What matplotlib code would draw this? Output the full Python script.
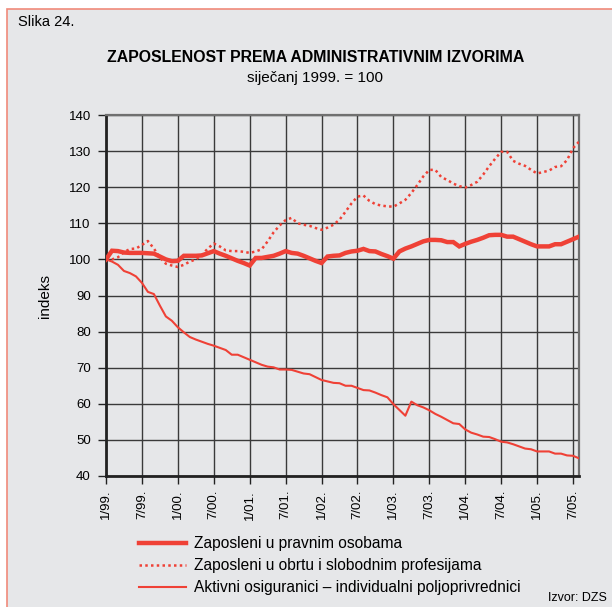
import matplotlib
matplotlib.use("Agg")
import matplotlib.pyplot as plt
from matplotlib.patches import Rectangle

plt.rcParams['font.family'] = ['Liberation Sans', 'DejaVu Sans']

# monthly index values, 1/99 .. 8/05 (January 1999 = 100)
pravne = [100, 102.4, 102.3, 101.9, 101.8, 101.8, 101.8, 101.7, 101.6, 100.8,
          100.0, 99.5, 99.6, 101.0, 101.0, 101.0, 101.1, 101.7, 102.3, 101.6,
          101.0, 100.3, 99.6, 99.0, 98.3, 100.4, 100.4, 100.7, 101.0, 101.6,
          102.3, 101.8, 101.6, 101.0, 100.3, 99.6, 99.0, 100.8, 101.0, 101.1,
          101.8, 102.2, 102.4, 102.9, 102.3, 102.2, 101.5, 100.9, 100.2, 102.2,
          103.0, 103.6, 104.3, 105.0, 105.4, 105.4, 105.3, 104.8, 104.8, 103.6,
          104.3, 104.9, 105.4, 106.0, 106.7, 106.8, 106.8, 106.3, 106.3, 105.6,
          104.9, 104.2, 103.6, 103.6, 103.6, 104.2, 104.2, 104.9, 105.6, 106.3]
obrt = [100, 100, 100.6, 102, 102.9, 103, 104, 105.1, 103, 100.5,
        98.8, 98.3, 97.9, 98.5, 99.4, 100, 101.2, 103, 104.4, 103.6,
        102.5, 102.3, 102.3, 102.1, 101.8, 102.2, 102.8, 105, 107.5, 109.4,
        110.9, 111.5, 110, 109.6, 109.3, 108.7, 108.2, 108.8, 109.6, 111,
        113.2, 115.5, 117.4, 117.7, 116.2, 115.3, 114.9, 114.7, 114.6, 115.5,
        116.5, 118.4, 120.6, 123, 124.8, 124.8, 122.8, 122, 121, 120.3,
        119.9, 120.6, 121.5, 123.5, 125.8, 127.9, 129.8, 129.8, 127.3, 126.5,
        125.9, 124.8, 123.8, 124.2, 124.6, 125.6, 125.8, 127.5, 130.8, 132.6]
poljo = [100, 99.4, 98.5, 96.8, 96.2, 95.3, 93.5, 91.0, 90.4, 87.2,
         84.2, 83.0, 81.2, 79.8, 78.5, 77.8, 77.2, 76.6, 76.1, 75.5,
         74.9, 73.6, 73.6, 72.9, 72.2, 71.5, 70.8, 70.3, 70.1, 69.5,
         69.5, 69.4, 68.9, 68.4, 68.2, 67.4, 66.6, 66.2, 65.8, 65.7,
         65.0, 65.0, 64.4, 63.8, 63.7, 63.1, 62.4, 61.8, 59.9, 58.3,
         56.7, 60.6, 59.6, 59.0, 58.2, 57.2, 56.4, 55.5, 54.6, 54.4,
         52.9, 52.0, 51.5, 50.9, 50.8, 50.2, 49.5, 49.3, 48.8, 48.2,
         47.6, 47.4, 46.8, 46.8, 46.8, 46.2, 46.2, 45.7, 45.6, 44.9]
months = list(range(len(pravne)))

tick_months = list(range(0, 79, 6))
tick_labels = ["1/99.", "7/99.", "1/00.", "7/00.", "1/01.", "7/01.", "1/02.",
               "7/02.", "1/03.", "7/03.", "1/04.", "7/04.", "1/05.", "7/05."]
y_ticks = list(range(40, 141, 10))

labels = ["Zaposleni u pravnim osobama",
          "Zaposleni u obrtu i slobodnim profesijama",
          "Aktivni osiguranici \u2013 individualni poljoprivrednici"]

red = "#ef4136"
bg = "#e6e7e9"

fig = plt.figure(figsize=(6.12, 6.07), dpi=100)
fig.patch.set_facecolor("white")

# framed grey panel behind everything, cut off at right and bottom
panel = Rectangle((7 / 612, -0.1), 1.2, 1.1 - 9 / 607,
                  transform=fig.transFigure, facecolor=bg,
                  edgecolor="#f08a7a", linewidth=1.2, zorder=-10)
fig.patches.append(panel)

ax = fig.add_axes([106 / 612, 1 - 476 / 607, (579 - 106) / 612, (476 - 115) / 607])
ax.set_zorder(1)
ax.set_facecolor(bg)

ax.plot(months, pravne, color=red, linewidth=3.2, solid_joinstyle="miter",
        label=labels[0], zorder=3)
ax.plot(months, obrt, color=red, linewidth=1.8, linestyle=(0, (1, 1.3)),
        label=labels[1], zorder=3)
ax.plot(months, poljo, color=red, linewidth=1.5, label=labels[2], zorder=3)

ax.set_xlim(0, 79)
ax.set_ylim(40, 140)
ax.set_xticks(tick_months)
ax.set_xticklabels(tick_labels, rotation=90, fontsize=9.5)
ax.set_yticks(y_ticks)
ax.set_yticklabels([str(v) for v in y_ticks], fontsize=9.5)
ax.tick_params(axis="x", direction="out", length=6, width=1, color="#222222", pad=4)
ax.tick_params(axis="y", direction="out", length=6, width=1, color="#222222", pad=5)
ax.grid(True, color="#3a3a3a", linewidth=1.0, zorder=1)
ax.set_axisbelow(True)
for s in ["left", "bottom"]:
    ax.spines[s].set_linewidth(2.0)
    ax.spines[s].set_color("#222222")
for s in ["top", "right"]:
    ax.spines[s].set_linewidth(1.6)
    ax.spines[s].set_color("#707070")
ax.set_ylabel("indeks", fontsize=11, labelpad=12)

fig.text(18 / 612, 1 - 22 / 607, "Slika 24.", fontsize=10.5, ha="left", va="center")
fig.text(316 / 612, 1 - 57 / 607, "ZAPOSLENOST PREMA ADMINISTRATIVNIM IZVORIMA",
         fontsize=11.4, fontweight="bold", ha="center", va="center")
fig.text(315 / 612, 1 - 78 / 607, "sije\u010danj 1999. = 100", fontsize=11,
         ha="center", va="center")
fig.text(607 / 612, 1 - 598 / 607, "Izvor: DZS", fontsize=9, ha="right", va="center")

fig.legend(loc="upper left", bbox_to_anchor=(139 / 612, 1 - 536 / 607),
           frameon=False, fontsize=11.2, handlelength=3.0, handletextpad=0.55,
           labelspacing=0.45, borderaxespad=0, borderpad=0)

fig.savefig("out.png", dpi=100, facecolor=fig.get_facecolor())
